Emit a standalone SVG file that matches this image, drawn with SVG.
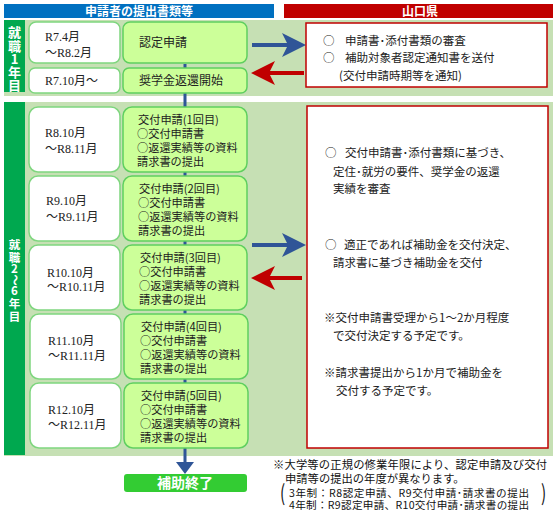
<svg xmlns="http://www.w3.org/2000/svg" width="557" height="511" viewBox="0 0 557 511">
<style>
.bg{fill:#c6e0b4}
.col{fill:#00a84f}
.date{fill:#ffffff;stroke:#7fd67f;stroke-width:1.5}
.gbox{fill:#ccff99;stroke:#5fcf5f;stroke-width:1.5}
.rbox{fill:#ffffff;stroke:#c00000;stroke-width:1.5}
.hd{font-family:"Noto Sans CJK JP","Liberation Sans",sans-serif;font-weight:bold;font-size:12px;fill:#ffffff}
.vt{font-family:"Noto Sans CJK JP","Liberation Sans",sans-serif;font-weight:bold;font-size:13px;fill:#ffffff;text-anchor:middle}
.vs{font-family:"Noto Sans CJK JP","Liberation Sans",sans-serif;font-weight:bold;font-size:11.5px;fill:#ffffff;text-anchor:middle}
.dt{font-family:"Liberation Serif","Noto Sans CJK JP",serif;font-size:12px;fill:#222222}
.gt{font-family:"Noto Sans CJK JP","Liberation Sans",sans-serif;font-size:11.2px;fill:#222222}
.rt{font-family:"Noto Sans CJK JP","Liberation Sans",sans-serif;font-size:11.5px;fill:#222222}
.nt{font-family:"Noto Sans CJK JP","Liberation Sans",sans-serif;font-size:11.3px;fill:#111111}
.st{font-family:"Noto Sans CJK JP","Liberation Sans",sans-serif;font-size:10.6px;fill:#111111}
.blue{stroke:#2f5597;stroke-width:4;fill:none}
.red{stroke:#c00000;stroke-width:4;fill:none}
</style>
<defs>
<marker id="ab" markerWidth="6" markerHeight="6" refX="5" refY="3" orient="auto" markerUnits="strokeWidth" viewBox="0 0 6 6"><path d="M0,0 L6,3 L0,6 L1.5,3 Z" fill="#2f5597"/></marker>
<marker id="ar" markerWidth="6" markerHeight="6" refX="5" refY="3" orient="auto" markerUnits="strokeWidth" viewBox="0 0 6 6"><path d="M0,0 L6,3 L0,6 L1.5,3 Z" fill="#c00000"/></marker>
</defs>

<g id="headers">
<rect x="4" y="4" width="270" height="14" fill="#0070c0"/>
<text class="hd" x="139" y="15.5" text-anchor="middle">申請者の提出書類等</text>
<rect x="284" y="4" width="269" height="14" fill="#c00000"/>
<text class="hd" x="420" y="15.5" text-anchor="middle">山口県</text>
</g>

<g id="section1">
<rect class="bg" x="4" y="20" width="549" height="76"/>
<rect class="col" x="4" y="20" width="21" height="72"/>
<text class="vt" x="14.5" y="37">就</text>
<text class="vt" x="14.5" y="51">職</text>
<text class="vt" x="14.5" y="64">1</text>
<text class="vt" x="14.5" y="77">年</text>
<text class="vt" x="14.5" y="90">目</text>
</g>

<g id="section2">
<rect class="bg" x="4" y="102" width="549" height="354"/>
<rect class="col" x="4" y="102" width="21" height="353"/>
<text class="vs" x="14.5" y="249">就</text>
<text class="vs" x="14.5" y="262">職</text>
<text class="vs" x="14.5" y="273">2</text>
<text class="vs" x="14.5" y="284" transform="rotate(90 14.5 280)">～</text>
<text class="vs" x="14.5" y="295">6</text>
<text class="vs" x="14.5" y="308">年</text>
<text class="vs" x="14.5" y="321">目</text>
</g>

<g id="connectors">
<line x1="185" y1="64" x2="185" y2="462" stroke="#2f5597" stroke-width="3"/>
<path d="M176,462 L194,462 L185,474 Z" fill="#2f5597"/>
<line class="blue" x1="252" y1="45" x2="302" y2="45" marker-end="url(#ab)"/>
<line class="red" x1="304" y1="73" x2="255" y2="73" marker-end="url(#ar)"/>
<line class="blue" x1="252" y1="245" x2="302" y2="245" marker-end="url(#ab)"/>
<line class="red" x1="302" y1="278" x2="255" y2="278" marker-end="url(#ar)"/>
</g>

<g id="date-r7-4">
<rect class="date" x="29" y="22" width="91" height="41" rx="7"/>
<text class="dt" x="45" y="41">R7.4月</text>
<text class="dt" x="45" y="57">～R8.2月</text>
</g>
<g id="node-nintei">
<rect class="gbox" x="123" y="22" width="124" height="41" rx="7"/>
<text class="gt" x="139" y="47" style="font-size:12px">認定申請</text>
</g>
<g id="date-r7-10">
<rect class="date" x="29" y="68" width="91" height="25" rx="6"/>
<text class="dt" x="45" y="85">R7.10月～</text>
</g>
<g id="node-henkan">
<rect class="gbox" x="123" y="68" width="124" height="25" rx="6"/>
<text class="gt" x="139" y="85" style="font-size:12px">奨学金返還開始</text>
</g>

<g id="date-r8">
<rect class="date" x="29" y="107" width="91" height="65" rx="9"/>
<text class="dt" x="45" y="137">R8.10月</text>
<text class="dt" x="45" y="153">～R8.11月</text>
</g>
<g id="node-kofu1">
<rect class="gbox" x="123" y="107" width="124" height="65" rx="9"/>
<text class="gt" x="138" y="124">交付申請(1回目)</text>
<text class="gt" x="137" y="138">○交付申請書</text>
<text class="gt" x="137" y="152">○返還実績等の資料</text>
<text class="gt" x="137" y="166">請求書の提出</text>
</g>

<g id="date-r9">
<rect class="date" x="29" y="176" width="91" height="65" rx="9"/>
<text class="dt" x="46" y="205">R9.10月</text>
<text class="dt" x="46" y="221">～R9.11月</text>
</g>
<g id="node-kofu2">
<rect class="gbox" x="123" y="176" width="124" height="65" rx="9"/>
<text class="gt" x="139" y="193">交付申請(2回目)</text>
<text class="gt" x="138" y="207">○交付申請書</text>
<text class="gt" x="138" y="221">○返還実績等の資料</text>
<text class="gt" x="138" y="235">請求書の提出</text>
</g>

<g id="date-r10">
<rect class="date" x="29" y="245" width="91" height="65" rx="9"/>
<text class="dt" x="47" y="277">R10.10月</text>
<text class="dt" x="47" y="291">～R10.11月</text>
</g>
<g id="node-kofu3">
<rect class="gbox" x="123" y="245" width="124" height="65" rx="9"/>
<text class="gt" x="140" y="262">交付申請(3回目)</text>
<text class="gt" x="139" y="276">○交付申請書</text>
<text class="gt" x="139" y="290">○返還実績等の資料</text>
<text class="gt" x="139" y="304">請求書の提出</text>
</g>

<g id="date-r11">
<rect class="date" x="30" y="314" width="91" height="65" rx="9"/>
<text class="dt" x="48" y="345">R11.10月</text>
<text class="dt" x="48" y="360">～R11.11月</text>
</g>
<g id="node-kofu4">
<rect class="gbox" x="124" y="314" width="124" height="65" rx="9"/>
<text class="gt" x="141" y="331">交付申請(4回目)</text>
<text class="gt" x="140" y="345">○交付申請書</text>
<text class="gt" x="140" y="359">○返還実績等の資料</text>
<text class="gt" x="140" y="373">請求書の提出</text>
</g>

<g id="date-r12">
<rect class="date" x="30" y="383" width="91" height="65" rx="9"/>
<text class="dt" x="48" y="414">R12.10月</text>
<text class="dt" x="48" y="429">～R12.11月</text>
</g>
<g id="node-kofu5">
<rect class="gbox" x="124" y="383" width="124" height="65" rx="9"/>
<text class="gt" x="141" y="400">交付申請(5回目)</text>
<text class="gt" x="140" y="414">○交付申請書</text>
<text class="gt" x="140" y="428">○返還実績等の資料</text>
<text class="gt" x="140" y="442">請求書の提出</text>
</g>

<g id="node-end">
<rect x="124" y="474" width="123" height="18" rx="3" fill="#33cc33"/>
<text class="vt" x="185" y="488" style="font-size:14px">補助終了</text>
</g>

<g id="pref-1">
<rect class="rbox" x="306" y="23" width="241" height="64"/>
<text class="rt" x="323" y="45">○</text>
<text class="rt" x="345" y="45">申請書･添付書類の審査</text>
<text class="rt" x="323" y="62">○</text>
<text class="rt" x="345" y="62">補助対象者認定通知書を送付</text>
<text class="rt" x="339" y="80">(交付申請時期等を通知)</text>
</g>

<g id="pref-2">
<rect class="rbox" x="307" y="106" width="241" height="342"/>
<text class="rt" x="325" y="157">○</text>
<text class="rt" x="345" y="157">交付申請書･添付書類に基づき、</text>
<text class="rt" x="333" y="176">定住･就労の要件、奨学金の返還</text>
<text class="rt" x="333" y="193">実績を審査</text>
<text class="rt" x="325" y="249">○</text>
<text class="rt" x="344" y="249">適正であれば補助金を交付決定、</text>
<text class="rt" x="333" y="267">請求書に基づき補助金を交付</text>
<text class="rt" x="324" y="322">※交付申請書受理から1～2か月程度</text>
<text class="rt" x="333" y="340">で交付決定する予定です。</text>
<text class="rt" x="324" y="377">※請求書提出から1か月で補助金を</text>
<text class="rt" x="336" y="395">交付する予定です。</text>
</g>

<g id="note">
<text class="nt" x="273" y="469" textLength="274" lengthAdjust="spacing">※大学等の正規の修業年限により、認定申請及び交付</text>
<text class="nt" x="285" y="483">申請等の提出の年度が異なります。</text>
<text class="st" x="282" y="501" style="font-size:22px" transform="scale(0.7 1) translate(118 0)">(</text>
<text class="st" x="289" y="497" textLength="240" lengthAdjust="spacing">3年制：R8認定申請、R9交付申請･請求書の提出</text>
<text class="st" x="289" y="509" textLength="240" lengthAdjust="spacing">4年制：R9認定申請、R10交付申請･請求書の提出</text>
<text class="st" x="541" y="501" style="font-size:22px" transform="scale(0.7 1) translate(232 0)">)</text>
</g>
</svg>
